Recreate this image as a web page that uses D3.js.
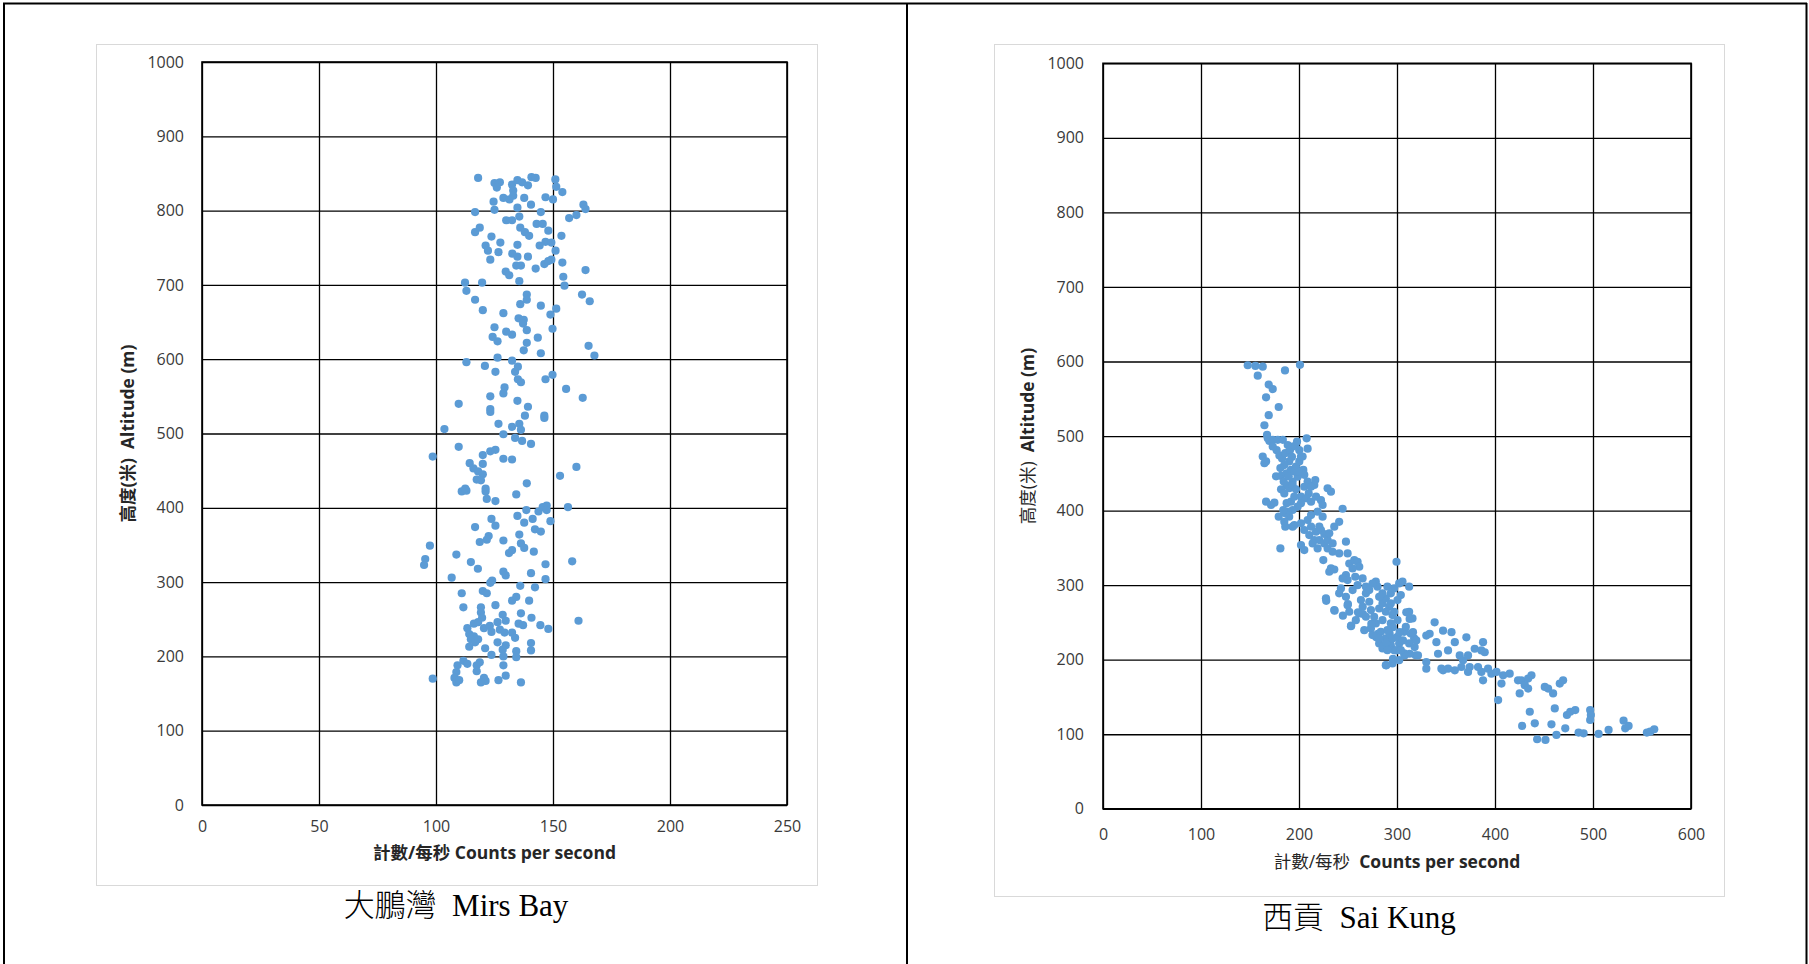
<!DOCTYPE html>
<html>
<head>
<meta charset="utf-8">
<script src="https://cdn.jsdelivr.net/npm/d3@7"></script>
<style>
  body { margin: 0; background: #fff; }
  svg { display: block; }
  .tick text { font-family: "Open Sans", "Noto Sans", sans-serif; font-size: 16px; fill: #3a3a3a; }
  .tick line { stroke: #000; stroke-width: 1.3; }
  .title { font-family: "Open Sans", "Noto Sans CJK TC", sans-serif; font-size: 17.5px; fill: #262626; white-space: pre; }
  .caption { font-family: "Liberation Serif", "Noto Sans CJK TC", serif; font-size: 31px; fill: #000; white-space: pre; }
</style>
</head>
<body>
<svg id="chart" width="1809" height="964"></svg>
<script>
///// *** DATA *** /////
// [counts per second, altitude in m]
var mirsBayPoints = [
  [118,844],[125,837],[127.3,838],[126,831],[132.5,835],[134.8,841],[136.8,838],[133,827],[139.3,834],[140.8,845],
  [142.6,844],[151,842],[151.4,832],[154,825],[146.8,818],[140.6,808],[133,820],[128.8,817],[124.6,812],[131.4,815],
  [137.7,817],[150,815],[163,808],[163.9,802],[116.7,798],[125,801],[134.8,804],[144.8,798],[156.9,790],[160,794],
  [130,787],[132.5,787],[135.6,792],[116.7,771],[118.7,777],[123.7,765],[136,777],[138,771],[139.8,766],[143,782],
  [145.6,782],[148,773],[153.6,766],[121.2,753],[122.2,746],[127.5,757],[134.8,754],[144.3,753],[146.8,758],[149.3,757],
  [151.1,746],[123.2,734],[132.6,742],[134.8,738],[139.3,738],[154,730],[126.7,744],[129.8,718],[131.3,713],[134.3,726],
  [136.3,726],[142.6,722],[146.3,728],[148,732],[149.3,734],[135.6,705],[154.4,711],[154.9,699],[163.9,720],[112.4,703],
  [119.7,703],[113,692],[138.8,687],[138.8,680],[162.4,687],[165.7,678],[144.8,672],[136,674],[116.7,680],[120,666],
  [151.4,668],[148.9,660],[128.8,662],[135.3,655],[137.5,653],[137.2,648],[138.8,639],[125,643],[149.8,641],[124.2,630],
  [132.5,633],[126.3,624],[130,637],[138.8,622],[143.5,629],[137.5,612],[144.8,608],[165.2,618],[167.7,605],[113,596],
  [126.3,602],[132.5,598],[120.9,591],[125.4,583],[133.8,583],[135,590],[135,573],[136.3,569],[149.8,579],[146.8,573],
  [155.6,560],[162.7,548],[129.3,562],[128.8,554],[123.2,550],[134.8,544],[139.3,536],[138,524],[146.3,521],[146.3,524],
  [123.2,533],[123.2,529],[109.7,540],[103.6,506],[126.7,513],[132.5,509],[135.6,513],[136.3,505],[128.8,499],[133.8,494],
  [136.8,490],[140.6,486],[109.7,482],[98.6,469],[120,471],[123.2,476],[125.4,478],[128.8,466],[132.5,465],[114.4,460],
  [116,453],[118,449],[120,459],[120,445],[117.4,438],[119.2,437],[121.2,426],[121.2,422],[113,423],[111,422],
  [112.5,426],[134.3,418],[138.8,433],[153,443],[160,455],[121.7,412],[125.4,409],[143.8,395],[145.6,401],[147.3,403],
  [147.3,397],[156.4,401],[134.8,389],[138.6,397],[137.7,380],[123.7,385],[125.4,376],[141.3,385],[148.9,382],[142.3,371],
  [144.8,368],[116.7,374],[122.5,362],[121.7,357],[118.7,354],[135.6,364],[136.3,352],[137.7,346],[128.8,356],[97.4,349],
  [95.4,331],[94.9,323],[108.7,337],[114.9,327],[117.9,318],[131.2,339],[132.5,343],[141.8,341],[146.8,324],[146.8,304],
  [158.2,328],[106.7,306],[140.6,312],[128.8,314],[129.8,309],[123.2,299],[124,302],[120,288],[121.7,285],[111,285],
  [111.7,266],[119.2,266],[119.2,259],[125.4,269],[128.5,256],[132.5,275],[134.3,280],[136,295],[142.3,293],[139.8,275],
  [136.3,258],[140.8,252],[119.7,252],[113.4,238],[116.2,244],[118,246],[120.5,238],[123,241],[126.3,246],[129.8,248],
  [135.3,244],[137.2,242],[144.6,242],[148,237],[160.9,248],[114.2,230],[116.2,227],[114.9,223],[116.7,219],[114.2,213],
  [118,223],[123.7,233],[127.3,236],[129.3,232],[132.5,232],[133.8,225],[129.8,215],[126.3,219],[128.5,209],[121,211],
  [123.7,202],[134.3,207],[134.3,199],[140.6,218],[140.6,208],[128.8,200],[111.7,194],[113.4,190],[109.2,188],[108.7,179],
  [107.9,171],[108.7,165],[109.9,168],[117.4,188],[118.7,192],[117.4,180],[120.5,171],[121.2,167],[119.2,165],[126.7,168],
  [128.8,188],[129.8,174],[136.3,165],[98.6,170]
];

var saiKungPoints = [
  [147.7,595],[155.5,594],[163,593],[157.9,581],[185.7,588],[201,595.5],[169.1,569],[173.2,563],[166.4,552],[179.3,539],
  [169.1,528],[164.7,514.5],[168.1,497],[169.8,493.5],[173.2,495],[167.4,501.5],[207.8,497],[208.8,483],[163,472.5],[164.7,463.5],
  [166.4,466],[177.2,481],[180,474],[182.7,470],[186,477],[188.5,488],[190.8,481],[193.5,486],[196.3,487],[192.8,472],
  [190,466],[185,461],[181,457],[176.6,446],[181.7,446.5],[187.4,450],[191.8,454.5],[196.9,459],[200.3,466],[202,472.5],
  [204.4,454.5],[205.4,448],[198.6,445.5],[193.5,439],[187.4,434],[181.7,428.6],[185,423],[190,430],[193.5,434],[216.6,441],
  [215.6,434.4],[229.2,430],[232.6,425.4],[209.9,423],[202,418.7],[207.2,416.5],[212.3,412],[217.4,418.7],[222.4,414],[224.1,407.5],
  [202,409.8],[198.6,405.3],[193.5,400.8],[188.5,398.6],[190,391.8],[186,396.3],[166.4,412],[171.5,407.5],[174.9,410.6],[244.5,402.5],
  [179.3,391.8],[185,385],[186,378.4],[195.2,380.6],[202,382.9],[208.8,387.4],[212.3,394],[219,398.6],[224.1,391.8],[220.7,378.4],
  [236,378.4],[241,385],[205.4,374],[210.5,367.2],[215.6,360.5],[213.9,356],[220.7,360.5],[225.8,356],[229.2,360.5],[229.2,349.3],
  [234.3,344.8],[247.9,358.3],[249.6,342.6],[241,342.6],[181,349.3],[202,353.8],[205.4,347],[224.8,333.7],[232.6,322.5],[230.9,318],
  [236,321],[251.3,329],[256.4,333.7],[259.8,331.4],[261.5,324.7],[254.7,322.5],[247.9,313.5],[244.5,309],[249.6,306.8],[257.4,311.3],
  [264.9,309],[278.4,304.6],[280.1,297.9],[268.3,297.9],[259.8,300],[254.7,293.4],[242.8,295.6],[241,289],[247.9,284.4],[227.5,282.2],
  [236,266.5],[249.6,273.2],[253,245],[251.3,264.3],[261.5,262],[268.3,289],[271.7,293.4],[263.2,280],[271.7,277.7],[273.4,266.5],
  [281.8,268.7],[285.2,275.5],[288.6,282.2],[293.7,289],[297.1,295.6],[302.2,302.3],[305.6,304.6],[312.4,297.9],[299.5,331.4],[303.9,286.7],
  [300.5,280],[292,271],[288.6,264.3],[295.4,259.8],[300.5,253],[293.7,248.6],[285.2,253],[278.4,248.6],[273.4,241.9],[283.5,237.4],
  [288.6,228.5],[281.8,221.8],[285.2,215],[293.7,219.5],[297.1,212.8],[302.2,221.8],[300.5,230.7],[307.3,237.4],[309,244],[314,235],
  [317.5,228.5],[312.4,221.8],[307.3,208.4],[302.2,199.4],[295.4,195],[288.6,192.7],[319,206],[312.4,264.3],[315.8,255.3],
  [227.8,279],[236.3,265.8],[244.8,259],[253.3,245.8],[249.9,274.7],[260.2,263.5],[265.3,261.3],[273.8,248],[280.6,234.7],[278.9,230],
  [285.7,216.9],[289.1,223.5],[292.5,234.7],[295.9,243.5],[302.7,236.9],[306.1,225.8],[309.5,263.5],[312.9,254.7],[316.3,236.9],[319.7,225.8],
  [318,217],[312.9,208],[307.8,205.8],[299.3,212.4],[295.9,201.3],[289.1,192.4],[321.4,205.8],[329.9,232.4],[333.3,234.7],[338.4,250.2],
  [340.2,223.5],[341.9,208],[329.9,196.9],[329.9,188],[345.3,188],[347,239],[352.1,212.4],[355.6,236.9],[359,223.5],[347,185.8],
  [352.1,188],[359,185.8],[364,205.8],[367.4,199.1],[372.5,205.8],[370.8,230],[374.2,190.2],[372.5,183.6],[365.7,190.2],[379.3,214.7],
  [386.1,212.4],[387.8,223.5],[389.5,210],[382.7,190.2],[386.1,183.6],[387.8,172.4],[392.9,188],[396.3,181.3],[401.5,183.6],[406.6,168],
  [403.2,145.8],[408.3,179.1],[415,181.3],[423.5,172.4],[425.2,154.7],[426.9,172.4],[430.4,165.8],[433.8,174.7],[437.2,179.1],[433.8,161.3],
  [435.5,130.2],[450.8,163.5],[454.2,161.3],[459.3,154.7],[466.1,168],[469.5,172.4],[461,134.7],[440.6,114.7],[427.7,111.1],[457.6,113.3],
  [443,93.3],[451.5,92.4],[462.7,99.1],[471.7,108],[473.4,125.8],[476.8,130.2],[481.9,132.4],[485.3,102.2],[490.4,101.3],[497.1,132.4],
  [497.8,125.8],[497.1,119.1],[505.7,100.4],[515.9,105.8],[531.2,118.2],[532.9,108],[536.3,111.1],[555,102.2],[558.4,103.5],[562.5,106.7],
  [173.2,486],[178.3,495],[183.5,495],[198,492.6],[200.3,481],[203.7,472.5],[184.4,439],[189.5,446],[195.2,452.6],[199.7,452.6],
  [205.4,432],[208.8,439],[212.3,432],[196.9,428.6],[212.3,378.4],[217.4,371.6],[222.4,374],[225.8,368.6],[230.9,369.5],[234.3,356],
  [219,349.3],[191.8,412],[195.2,418.7],[187.4,410],[184,400.8],[193.5,378.4],
  [275,302],[285.2,289],[290.2,297.9],[281.8,284.4],[265,271],[268.3,257.6],[276.7,257.6],[297.1,264.3],[293.7,275.5],[258,253],
  [266.6,239.6],[275,233],[281.8,228.5],[290.2,239.6],[295.4,228.5],[290.2,212.8],[303.9,212.8]
];

var altitudeTicks = [0, 100, 200, 300, 400, 500, 600, 700, 800, 900, 1000];
var mirsCountTicks = [0, 50, 100, 150, 200, 250];
var saiCountTicks = [0, 100, 200, 300, 400, 500, 600];

var yTitleZh = '高度(米)', yTitleEn = 'Altitude (m)';
var xTitleZh = '計數/每秒', xTitleEn = 'Counts per second';

var dotColor = '#5B9BD5';
var svg = d3.select('#chart');

///// *** FRAME LINES *** /////
svg.append('g')
  .attr('stroke', '#000')
  .attr('stroke-width', 2)
  .selectAll('line')
  .data([[3, 3.5, 1807, 3.5], [4, 3, 4, 964], [907, 3, 907, 964], [1806.5, 3, 1806.5, 964]])
  .enter().append('line')
  .attr('x1', function(d) { return d[0]; })
  .attr('y1', function(d) { return d[1]; })
  .attr('x2', function(d) { return d[2]; })
  .attr('y2', function(d) { return d[3]; });

///// *** PANELS *** /////
drawPanel({
  points: mirsBayPoints, xTicks: mirsCountTicks, xMax: 250,
  frame: [96, 44, 817, 885], plot: [202, 62, 787, 805],
  yPad: 18, xPad: 16, yTitleX: 128, xTitleY: 859,
  boldZh: true, caption: '大鵬灣  Mirs Bay', capX: 456, capY: 916
});
drawPanel({
  points: saiKungPoints, xTicks: saiCountTicks, xMax: 600,
  frame: [994, 44, 1724, 896], plot: [1103, 63.3, 1691, 808.8],
  yPad: 19, xPad: 20, yTitleX: 1028, xTitleY: 868,
  boldZh: false, caption: '西貢  Sai Kung', capX: 1359, capY: 928
});

function drawPanel(cfg){
  var w = cfg.plot[2] - cfg.plot[0],
      h = cfg.plot[3] - cfg.plot[1];

  // light grey chart-area border
  svg.append('rect')
    .attr('x', cfg.frame[0] + 0.5).attr('y', cfg.frame[1] + 0.5)
    .attr('width', cfg.frame[2] - cfg.frame[0]).attr('height', cfg.frame[3] - cfg.frame[1])
    .attr('fill', '#fff').attr('stroke', '#d9d9d9').attr('stroke-width', 1);

  var g = svg.append('g').attr('transform', 'translate(' + cfg.plot[0] + ',' + cfg.plot[1] + ')');

  var x = d3.scaleLinear().domain([0, cfg.xMax]).range([0, w]);
  var y = d3.scaleLinear().domain([0, 1000]).range([h, 0]);

  // gridlines come from the axes' ticks
  g.append('g')
    .call(d3.axisLeft(y).tickValues(altitudeTicks).tickFormat(d3.format('d')).tickSize(-w).tickPadding(cfg.yPad))
    .call(function(a) { a.select('.domain').remove(); });
  g.append('g')
    .attr('transform', 'translate(0,' + h + ')')
    .call(d3.axisBottom(x).tickValues(cfg.xTicks).tickFormat(d3.format('d')).tickSize(-h).tickPadding(cfg.xPad))
    .call(function(a) { a.select('.domain').remove(); });

  g.append('rect')
    .attr('width', w).attr('height', h)
    .attr('fill', 'none').attr('stroke', '#000').attr('stroke-width', 1.6);

  g.append('g').selectAll('circle')
    .data(cfg.points)
    .enter().append('circle')
    .attr('cx', function(d) { return x(d[0]); })
    .attr('cy', function(d) { return y(d[1]); })
    .attr('r', 4.1)
    .attr('fill', dotColor);

  // axis titles
  var zhWeight = cfg.boldZh ? 'bold' : 'normal';
  var xt = svg.append('text').attr('class', 'title')
    .attr('x', cfg.plot[0] + w / 2).attr('y', cfg.xTitleY)
    .attr('text-anchor', 'middle');
  xt.append('tspan').attr('font-weight', zhWeight).text(xTitleZh + (cfg.boldZh ? ' ' : '  '));
  xt.append('tspan').attr('font-weight', 'bold').text(xTitleEn);

  var yt = svg.append('text').attr('class', 'title')
    .attr('transform', 'translate(' + cfg.yTitleX + ',' + (cfg.plot[1] + h / 2) + ') rotate(-90)')
    .attr('text-anchor', 'middle')
    .attr('dy', '0.35em');
  yt.append('tspan').attr('font-weight', zhWeight).text(yTitleZh + '  ');
  yt.append('tspan').attr('font-weight', 'bold').text(yTitleEn);

  svg.append('text').attr('class', 'caption')
    .attr('x', cfg.capX).attr('y', cfg.capY)
    .attr('text-anchor', 'middle')
    .attr('font-weight', 300)
    .text(cfg.caption);
}
</script>
</body>
</html>
